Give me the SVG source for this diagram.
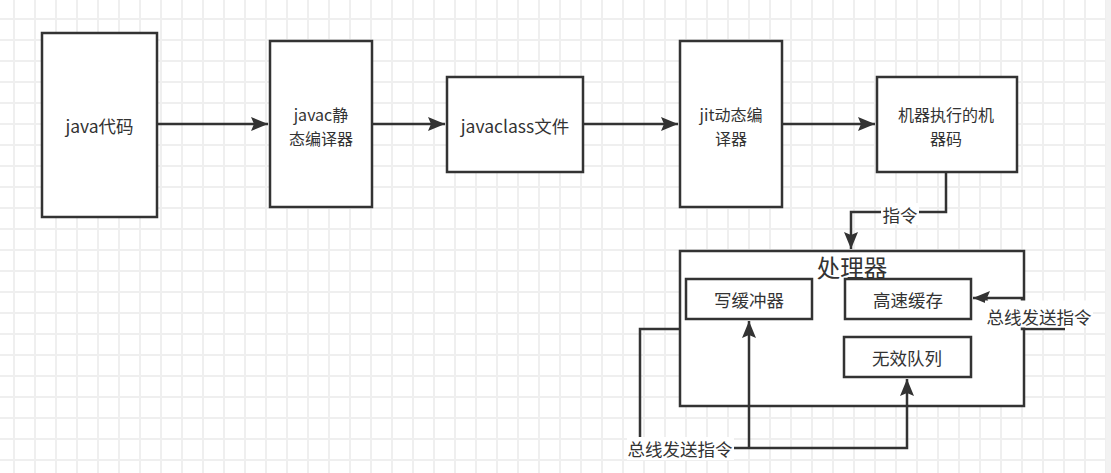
<svg xmlns="http://www.w3.org/2000/svg" width="1111" height="473" viewBox="0 0 1111 473">
<defs>
<pattern id="grid" x="13" y="18" width="21" height="21" patternUnits="userSpaceOnUse">
<rect x="0" y="0" width="21" height="21" fill="#ffffff"/>
<rect x="0" y="0" width="2" height="21" fill="#efefef"/>
<rect x="0" y="0" width="21" height="2" fill="#efefef"/>
</pattern>
<marker id="arr" markerUnits="userSpaceOnUse" markerWidth="18" markerHeight="14" refX="17" refY="7" orient="auto">
<path d="M0,0 L17,7 L0,14 L3,7 Z" fill="#333333"/>
</marker>
<style>
.box{fill:#ffffff;stroke:#333333;stroke-width:2.5}
.edge{fill:none;stroke:#333333;stroke-width:2.5}
.t{font-family:"Microsoft YaHei","Noto Sans CJK SC",sans-serif;font-size:17.5px;fill:#333333;text-anchor:middle;dominant-baseline:central}
.two{font-size:16px}
.big{font-size:23.5px}
.lbg{fill:#ffffff}
</style>
</defs>
<rect x="0" y="0" width="1111" height="473" fill="url(#grid)"/>
<rect x="1106" y="0" width="5" height="473" fill="#f2f2f2"/>

<g id="connectors">
<path class="edge" d="M157,124 L268,124" marker-end="url(#arr)"/>
<path class="edge" d="M372,124 L445,124" marker-end="url(#arr)"/>
<path class="edge" d="M583,124 L678,124" marker-end="url(#arr)"/>
<path class="edge" d="M782,124 L875,124" marker-end="url(#arr)"/>
<path class="edge" d="M946,172 L946,212 L851,212 L851,249" marker-end="url(#arr)"/>
<rect class="lbg" x="881" y="203" width="38" height="22"/>
<text class="t" x="900" y="214">指令</text>
</g>

<g id="n-java"><rect class="box" x="42" y="33" width="115" height="184"/><text class="t" x="99.5" y="125">java代码</text></g>
<g id="n-javac"><rect class="box" x="270" y="41" width="102" height="166"/><text class="t two" x="321" y="114">javac静</text><text class="t two" x="321" y="137.5">态编译器</text></g>
<g id="n-class"><rect class="box" x="447" y="77" width="136" height="95"/><text class="t" x="515" y="125">javaclass文件</text></g>
<g id="n-jit"><rect class="box" x="680" y="41" width="102" height="166"/><text class="t two" x="731" y="114">jit动态编</text><text class="t two" x="731" y="137.5">译器</text></g>
<g id="n-machine"><rect class="box" x="877" y="77" width="140" height="95"/><text class="t two" x="946" y="114">机器执行的机</text><text class="t two" x="946" y="137.5">器码</text></g>

<g id="n-cpu"><rect class="box" x="680" y="251" width="344" height="155"/><text class="t big" x="852" y="267">处理器</text></g>
<g id="n-wb"><rect class="box" x="686" y="279" width="126" height="40"/><text class="t" x="749" y="299">写缓冲器</text></g>
<g id="n-cache"><rect class="box" x="845" y="279" width="126" height="40"/><text class="t" x="908" y="299">高速缓存</text></g>
<g id="n-inv"><rect class="box" x="844" y="337" width="127" height="40"/><text class="t" x="907" y="357">无效队列</text></g>

<g id="connectors-bus">
<path class="edge" d="M1065,329 L1022,329 L1022,298 L973,298" marker-end="url(#arr)"/>
<rect class="lbg" x="985" y="300.5" width="108" height="27"/>
<text class="t" x="1039" y="316">总线发送指令</text>
<path class="edge" d="M680,329 L640,329 L640,437"/>
<path class="edge" d="M733,448 L907,448 L907,379" marker-end="url(#arr)"/>
<path class="edge" d="M749,448 L749,321" marker-end="url(#arr)"/>
<rect class="lbg" x="627" y="437" width="107" height="23"/>
<text class="t" x="680" y="448">总线发送指令</text>
</g>
</svg>
